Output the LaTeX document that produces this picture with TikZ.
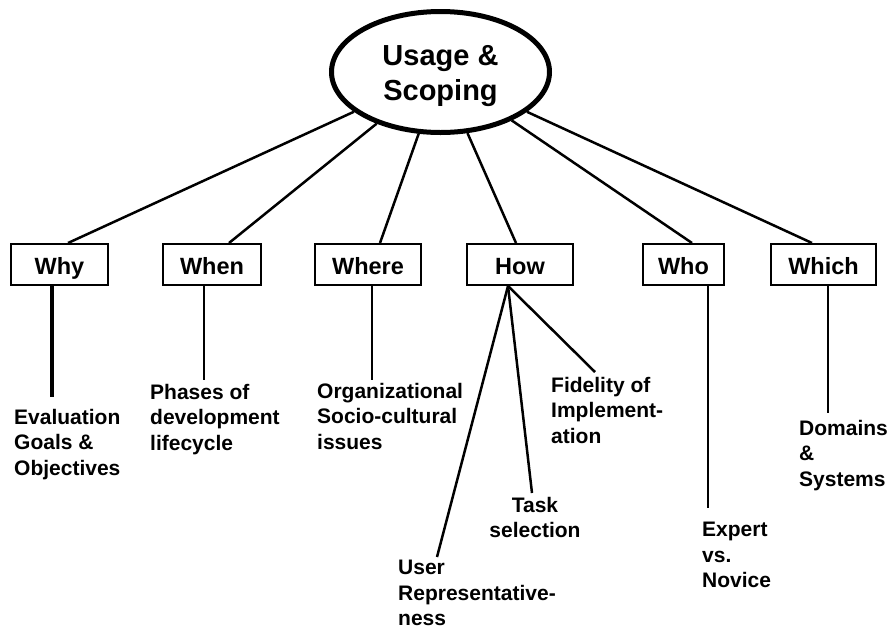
\documentclass[tikz,border=0pt]{standalone}
\usepackage{fontspec}
\setmainfont{Liberation Sans}
\usepackage{tikz}
\usetikzlibrary{shapes.geometric,calc}

\begin{document}
\begin{tikzpicture}[x=1pt,y=-1pt,
    hub/.style={ellipse, draw, line width=5pt, minimum width=218pt,
      minimum height=121pt, inner sep=0pt, align=center, text height=64pt,
      font=\fontsize{29}{35}\selectfont\bfseries},
    qbox/.style={draw, line width=2pt, minimum height=41pt, inner sep=0pt,
      text height=22pt, text depth=3pt,
      font=\fontsize{23.5}{28}\selectfont\bfseries},
    leaf/.style={inner sep=0pt, align=left,
      font=\fontsize{21}{25.5}\selectfont\bfseries},
    link/.style={line width=2.5pt}]
  \useasboundingbox (0,0) rectangle (889,630);

  \node[hub] (usage) at (440.5,72) {Usage \&\\Scoping};

  % question boxes
  \node[qbox, minimum width=97pt]  (why)   at (59.5,264.5) {Why};
  \node[qbox, minimum width=98pt]  (when)  at (212,264.5)  {When};
  \node[qbox, minimum width=106pt] (where) at (368,264.5)  {Where};
  \node[qbox, minimum width=106pt] (how)   at (520,264.5)  {How};
  \node[qbox, minimum width=81pt]  (who)   at (683.5,264.5) {Who};
  \node[qbox, minimum width=105pt] (which) at (823.5,264.5) {Which};

  % aspects
  \node[leaf, anchor=north west] (goals)  at (14,409)  {Evaluation\\Goals \&\\Objectives};
  \node[leaf, anchor=north west] (phases) at (150,384) {Phases of\\development\\lifecycle};
  \node[leaf, anchor=north west] (orgs)   at (317,383) {Organizational\\Socio-cultural\\issues};
  \node[leaf, anchor=north west] (fidel)  at (551,377) {Fidelity of\\Implement-\\ation};
  \node[leaf, anchor=north, align=center] (task) at (535,497) {Task\\selection};
  \node[leaf, anchor=north west] (users)  at (398,560) {User\\Representative-\\ness};
  \node[leaf, anchor=north west] (expert) at (702,522) {Expert\\vs.\\Novice};
  \node[leaf, anchor=north west] (domain) at (799,420) {Domains\\\&\\Systems};

  \coordinate (whyend)   at (52,397);
  \coordinate (whenend)  at (204,380);
  \coordinate (whereend) at (372,380);
  \coordinate (fidend)   at (595,372);
  \coordinate (taskend)  at (532,493);
  \coordinate (userend)  at (437,557);
  \coordinate (whoend)   at (708,508);
  \coordinate (whichend) at (828,413);

  % hub to questions
  \draw[link] (usage) -- ([xshift=8.5]why.north);
  \draw[link] (usage) -- ([xshift=17]when.north);
  \draw[link] (usage) -- ([xshift=12]where.north);
  \draw[link] (usage) -- ([xshift=-4]how.north);
  \draw[link] (usage) -- ([xshift=8.5]who.north);
  \draw[link] (usage) -- ([xshift=-11.5]which.north);

  % questions to aspects
  \draw[line width=4pt] (why.south -| whyend) -- (whyend);
  \draw[link] (when.south -| whenend) -- (whenend);
  \draw[link] (where.south -| whereend) -- (whereend);
  \draw[link] ([xshift=-12]how.south) -- (fidend);
  \draw[link] ([xshift=-12]how.south) -- (taskend);
  \draw[link] ([xshift=-12]how.south) -- (userend);
  \draw[link] (who.south -| whoend) -- (whoend);
  \draw[link] (which.south -| whichend) -- (whichend);
\end{tikzpicture}
\end{document}
